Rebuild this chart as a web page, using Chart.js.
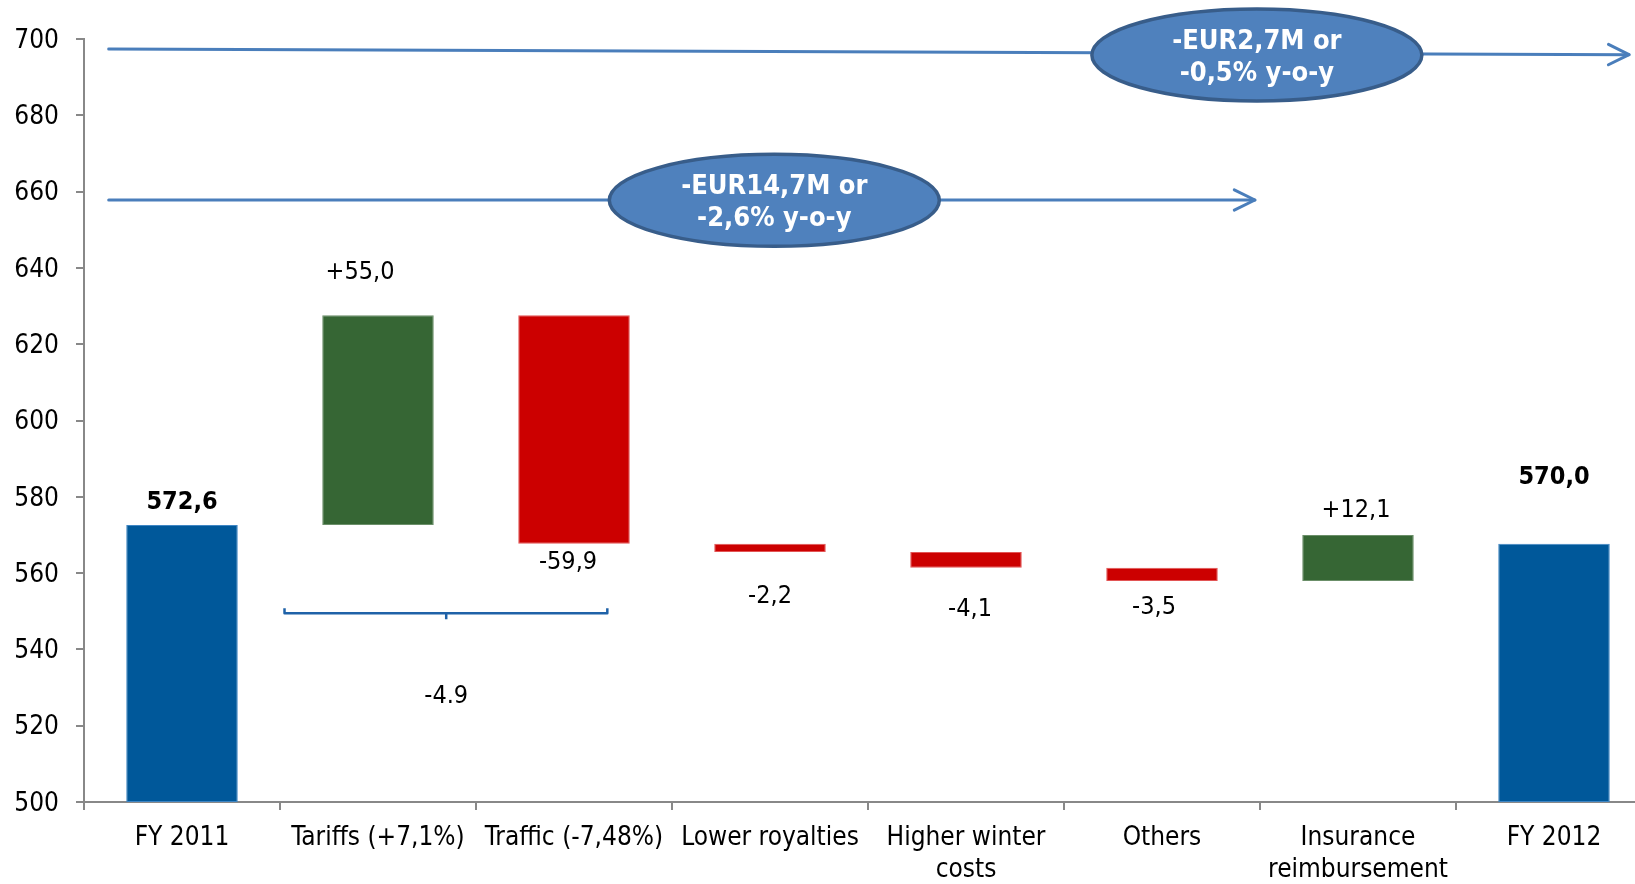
<!DOCTYPE html>
<html>
<head>
<meta charset="utf-8">
<script src="https://cdn.jsdelivr.net/npm/chart.js@4/dist/chart.umd.min.js"></script>
<style>
  html, body { margin: 0; padding: 0; background: #ffffff; overflow: hidden; }
  #wrap { width: 1652px; height: 884px; position: relative; }
</style>
</head>
<body>
<div id="wrap"><canvas id="c"></canvas></div>
<script>
// ---- data ----
const categories = ['FY 2011', 'Tariffs (+7,1%)', 'Traffic (-7,48%)', 'Lower royalties',
  ['Higher winter', 'costs'], 'Others', ['Insurance', 'reimbursement'], 'FY 2012'];
const barStart = [500, 572.6, 567.7, 565.5, 561.4, 557.9, 557.9, 500];
const barEnd   = [572.6, 627.6, 627.6, 567.7, 565.5, 561.4, 570.0, 567.7];
const barKind  = ['total', 'up', 'down', 'down', 'down', 'down', 'up', 'total'];
const valueLabels = ['572,6', '+55,0', '-59,9', '-2,2', '-4,1', '-3,5', '+12,1', '570,0'];
const yMin = 500, yMax = 700, yStep = 20;
const bubbleTop = ['-EUR2,7M or', '-0,5% y-o-y'];
const bubbleBottom = ['-EUR14,7M or', '-2,6% y-o-y'];
const bracketLabel = '-4.9';

// ---- styles ----
const FONT = '"DejaVu Sans Condensed", "DejaVu Sans", sans-serif';
const kindFill = { total: '#00589a', up: '#366634', down: '#cc0000' };
const kindEdge = { total: '#3f86c4', up: '#6b8f69', down: '#e25555' };
// label placement (pixel offsets relative to bar end, side: 'top' or 'bottom')
const labelPlace = [
  { side: 'top', dy: -23, dx: 0, bold: true },
  { side: 'top', dy: -43, dx: -18 },
  { side: 'bottom', dy: 19, dx: -6 },
  { side: 'bottom', dy: 44, dx: 0 },
  { side: 'bottom', dy: 42, dx: 4 },
  { side: 'bottom', dy: 26, dx: -8 },
  { side: 'top', dy: -24, dx: -2 },
  { side: 'top', dy: -66, dx: 0, bold: true }
];

const labelPlugin = {
  id: 'valueLabels',
  afterDatasetsDraw(chart) {
    const ctx = chart.ctx;
    const meta = chart.getDatasetMeta(0);
    ctx.save();
    ctx.textAlign = 'center';
    ctx.textBaseline = 'middle';
    ctx.fillStyle = '#000';
    meta.data.forEach((el, i) => {
      const p = labelPlace[i];
      const top = Math.min(el.y, el.base), bottom = Math.max(el.y, el.base);
      const y = (p.side === 'top' ? top : bottom) + p.dy;
      ctx.font = (p.bold ? 'bold ' : '') + '25px ' + FONT;
      ctx.fillText(valueLabels[i], el.x + p.dx, y);
    });
    ctx.restore();
  }
};

function arrowLine(ctx, x1, y1, x2, y2, color, lw) {
  ctx.strokeStyle = color; ctx.lineWidth = lw; ctx.lineCap = 'round'; ctx.lineJoin = 'round';
  ctx.beginPath(); ctx.moveTo(x1, y1); ctx.lineTo(x2, y2); ctx.stroke();
  const ang = Math.atan2(y2 - y1, x2 - x1);
  const L = 23, a = 0.46;
  ctx.beginPath();
  ctx.moveTo(x2 - L * Math.cos(ang - a), y2 - L * Math.sin(ang - a));
  ctx.lineTo(x2, y2);
  ctx.lineTo(x2 - L * Math.cos(ang + a), y2 - L * Math.sin(ang + a));
  ctx.stroke();
}
function bubble(ctx, cx, cy, lines) {
  ctx.save();
  ctx.beginPath();
  ctx.ellipse(cx, cy, 165, 46, 0, 0, Math.PI * 2);
  ctx.fillStyle = '#4f81bd'; ctx.fill();
  ctx.lineWidth = 3.5; ctx.strokeStyle = '#385d8a'; ctx.stroke();
  ctx.fillStyle = '#ffffff';
  ctx.font = 'bold 27px ' + FONT;
  ctx.textAlign = 'center'; ctx.textBaseline = 'middle';
  ctx.fillText(lines[0], cx, cy - 13);
  ctx.fillText(lines[1], cx, cy + 19);
  ctx.restore();
}

const annotationPlugin = {
  id: 'annots',
  afterDraw(chart) {
    const ctx = chart.ctx;
    const xs = chart.scales.x, ys = chart.scales.y;
    const X = v => xs.getPixelForValue(0) + v * (xs.getPixelForValue(1) - xs.getPixelForValue(0));
    const Y = v => ys.getPixelForValue(v);
    ctx.save();
    // long arrows
    arrowLine(ctx, X(-0.374), Y(697.4), X(7.383), Y(695.9), '#4a7ebb', 3);
    arrowLine(ctx, X(-0.374), Y(657.8), X(5.474), Y(657.8), '#4a7ebb', 3);
    // bubbles
    bubble(ctx, X(5.484), Y(695.8), bubbleTop);
    bubble(ctx, X(3.022), Y(657.7), bubbleBottom);
    // bracket
    const bl = X(0.523), br = X(2.170), bc = X(1.348), by = Y(549.5);
    ctx.strokeStyle = '#1f62a8'; ctx.lineWidth = 2.5; ctx.lineCap = 'butt';
    ctx.beginPath();
    ctx.moveTo(bl, by - 5); ctx.lineTo(bl, by); ctx.lineTo(br, by); ctx.lineTo(br, by - 5);
    ctx.moveTo(bc, by); ctx.lineTo(bc, by + 6);
    ctx.stroke();
    ctx.fillStyle = '#000'; ctx.font = '25px ' + FONT;
    ctx.textAlign = 'center'; ctx.textBaseline = 'middle';
    ctx.fillText(bracketLabel, bc, Y(527.6));
    ctx.restore();
  }
};

new Chart(document.getElementById('c'), {
  type: 'bar',
  data: {
    labels: categories,
    datasets: [{
      data: barStart.map((s, i) => [s, barEnd[i]]),
      backgroundColor: barKind.map(k => kindFill[k]),
      borderColor: barKind.map(k => kindEdge[k]),
      borderWidth: 1,
      borderSkipped: false,
      categoryPercentage: 1,
      barPercentage: 0.569
    }]
  },
  options: {
    responsive: true,
    maintainAspectRatio: false,
    animation: false,
    layout: { padding: { top: 39, right: 0, left: 0, bottom: 0 } },
    plugins: { legend: { display: false }, tooltip: { enabled: false } },
    scales: {
      x: {
        offset: true,
        grid: { display: true, offset: true, drawOnChartArea: false, tickLength: 8, color: '#888', lineWidth: 2 },
        border: { display: true, color: '#888', width: 2 },
        ticks: { color: '#000', font: { family: FONT, size: 26, lineHeight: 1.24 }, padding: 12, maxRotation: 0, autoSkip: false },
        afterFit(s) { s.height = 82; }
      },
      y: {
        min: yMin, max: yMax,
        grid: { display: true, drawOnChartArea: false, tickLength: 8, color: '#888', lineWidth: 2 },
        border: { display: true, color: '#888', width: 2 },
        ticks: { stepSize: yStep, color: '#000', font: { family: FONT, size: 26 }, padding: 17, labelOffset: 2 },
        afterFit(s) { s.width = 84; }
      }
    }
  },
  plugins: [labelPlugin, annotationPlugin]
});
</script>
</body>
</html>
